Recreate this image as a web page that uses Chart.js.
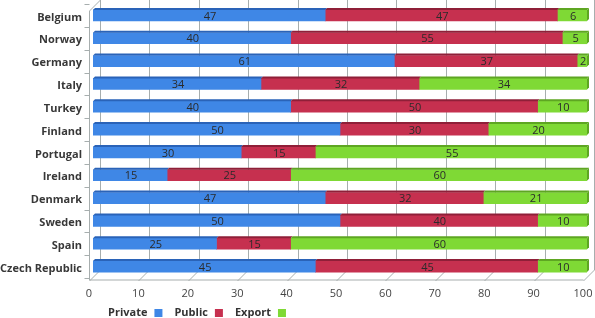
<!DOCTYPE html>
<html>
<head>
<meta charset="utf-8">
<script src="https://cdn.jsdelivr.net/npm/chart.js@4.4.1/dist/chart.umd.min.js"></script>
<style>
html,body{margin:0;padding:0;background:#fff;}
#wrap{width:595px;height:318px;position:relative;}
</style>
</head>
<body>
<div id="wrap"><canvas id="c" width="595" height="318"></canvas></div>
<script>
const categories = ["Belgium","Norway","Germany","Italy","Turkey","Finland","Portugal","Ireland","Denmark","Sweden","Spain","Czech Republic"];
const privateVals = [47,40,61,34,40,50,30,15,47,50,25,45];
const publicVals  = [47,55,37,32,50,30,15,25,32,40,15,45];
const exportVals  = [6,5,2,34,10,20,55,60,21,10,60,10];
const seriesNames = ["Private","Public","Export"];
const xTicks = [0,10,20,30,40,50,60,70,80,90,100];

const colors = ["#3f87e6","#c6304f","#7fd935"];
const topColors = ["#2a63b8","#8f1f38","#5ea622"];
const FONT = "'Open Sans', 'DejaVu Sans', sans-serif";

const threeD = {
  id: 'threeD',
  beforeDatasetsDraw(chart) {
    const ctx = chart.ctx;
    const xs = chart.scales.x;
    const ca = chart.chartArea;
    const fy = ca.bottom + 2, by = fy - 10;
    ctx.save();
    ctx.strokeStyle = "#a7aeae";
    ctx.lineWidth = 1;
    xTicks.forEach(v => {
      const px = Math.round(xs.getPixelForValue(v)) + 0.5;
      const bx = px + 7, fx = px - 4;
      ctx.beginPath();
      ctx.moveTo(bx, 0); ctx.lineTo(bx, by);
      ctx.lineTo(fx, fy + 1);
      ctx.stroke();
    });
    const x0f = Math.round(xs.getPixelForValue(0)) - 4 + 0.5;
    const x1f = Math.round(xs.getPixelForValue(100)) - 4 + 0.5;
    ctx.beginPath();
    ctx.moveTo(x0f, fy); ctx.lineTo(x1f, fy); ctx.stroke();
    ctx.beginPath();
    ctx.moveTo(x0f, 11); ctx.lineTo(x0f, fy); ctx.stroke();
    ctx.beginPath();
    ctx.moveTo(x0f, 11); ctx.lineTo(x0f + 11, 0); ctx.stroke();
    const n = categories.length;
    for (let i = 0; i <= n; i++) {
      const y = Math.round(ca.top + (ca.bottom - ca.top) * i / n) + 0.5;
      ctx.beginPath(); ctx.moveTo(x0f - 5, y); ctx.lineTo(x0f, y); ctx.stroke();
    }
    ctx.restore();
  },
  afterDatasetsDraw(chart) {
    const ctx = chart.ctx;
    ctx.save();
    const nd = chart.data.datasets.length;
    chart.data.datasets.forEach((ds, di) => {
      const meta = chart.getDatasetMeta(di);
      meta.data.forEach((bar, i) => {
        const p = bar.getProps(['x','y','base','height'], true);
        const left = Math.min(p.x, p.base), right = Math.max(p.x, p.base);
        const top = p.y - p.height / 2, bottom = p.y + p.height / 2;
        if (right - left > 0.5) {
          ctx.fillStyle = topColors[di];
          ctx.beginPath();
          ctx.moveTo(left, top);
          ctx.lineTo(left + 2, top - 2);
          ctx.lineTo(right + 2, top - 2);
          ctx.lineTo(right, top);
          ctx.closePath();
          ctx.fill();
          if (di === nd - 1) {
            ctx.beginPath();
            ctx.moveTo(right, top);
            ctx.lineTo(right + 2, top - 2);
            ctx.lineTo(right + 2, bottom - 2);
            ctx.lineTo(right, bottom);
            ctx.closePath();
            ctx.fill();
          }
          const v = ds.data[i];
          ctx.fillStyle = "#2b2b2b";
          ctx.font = "11px " + FONT;
          ctx.textAlign = "center";
          ctx.textBaseline = "middle";
          ctx.fillText(String(v), (left + right) / 2 + 1, p.y + 1);
        }
      });
    });
    ctx.restore();
  },
  afterDraw(chart) {
    const ctx = chart.ctx;
    ctx.save();
    ctx.font = "bold 11px " + FONT;
    ctx.textBaseline = "middle";
    ctx.textAlign = "left";
    let x = 108;
    const y = 313;
    chart.data.datasets.forEach((ds, di) => {
      ctx.fillStyle = "#333333";
      ctx.fillText(ds.label, x, y);
      x += ctx.measureText(ds.label).width + 7;
      ctx.fillStyle = colors[di];
      ctx.fillRect(x, y - 4, 8, 8);
      x += 8 + 12;
    });
    ctx.restore();
  }
};

const datasets = [privateVals, publicVals, exportVals].map((vals, i) => ({
  label: seriesNames[i],
  data: vals,
  backgroundColor: colors[i],
  borderWidth: 0,
  barThickness: 11
}));

function noPad(s) { s.paddingTop = 0; s.paddingBottom = 0; s.paddingLeft = 0; s.paddingRight = 0; }

new Chart(document.getElementById('c'), {
  type: 'bar',
  data: { labels: categories, datasets },
  options: {
    indexAxis: 'y',
    responsive: false,
    animation: false,
    devicePixelRatio: 1,
    layout: { padding: { top: 4, right: 8, bottom: 0, left: 0 } },
    plugins: { legend: { display: false }, tooltip: { enabled: false } },
    scales: {
      x: {
        stacked: true, min: 0, max: 100,
        grid: { display: false, drawTicks: false },
        border: { display: false },
        ticks: { stepSize: 10, padding: 9, labelOffset: -4, color: "#444", font: { size: 11, family: FONT } },
        afterFit(s) { s.height = 40; noPad(s); }
      },
      y: {
        stacked: true,
        grid: { display: false, drawTicks: false },
        border: { display: false },
        ticks: { padding: 11, labelOffset: 2, color: "#383838", font: { size: 11, weight: 'bold', family: FONT } },
        afterFit(s) { s.width = 93; noPad(s); }
      }
    }
  },
  plugins: [threeD]
});
</script>
</body>
</html>
